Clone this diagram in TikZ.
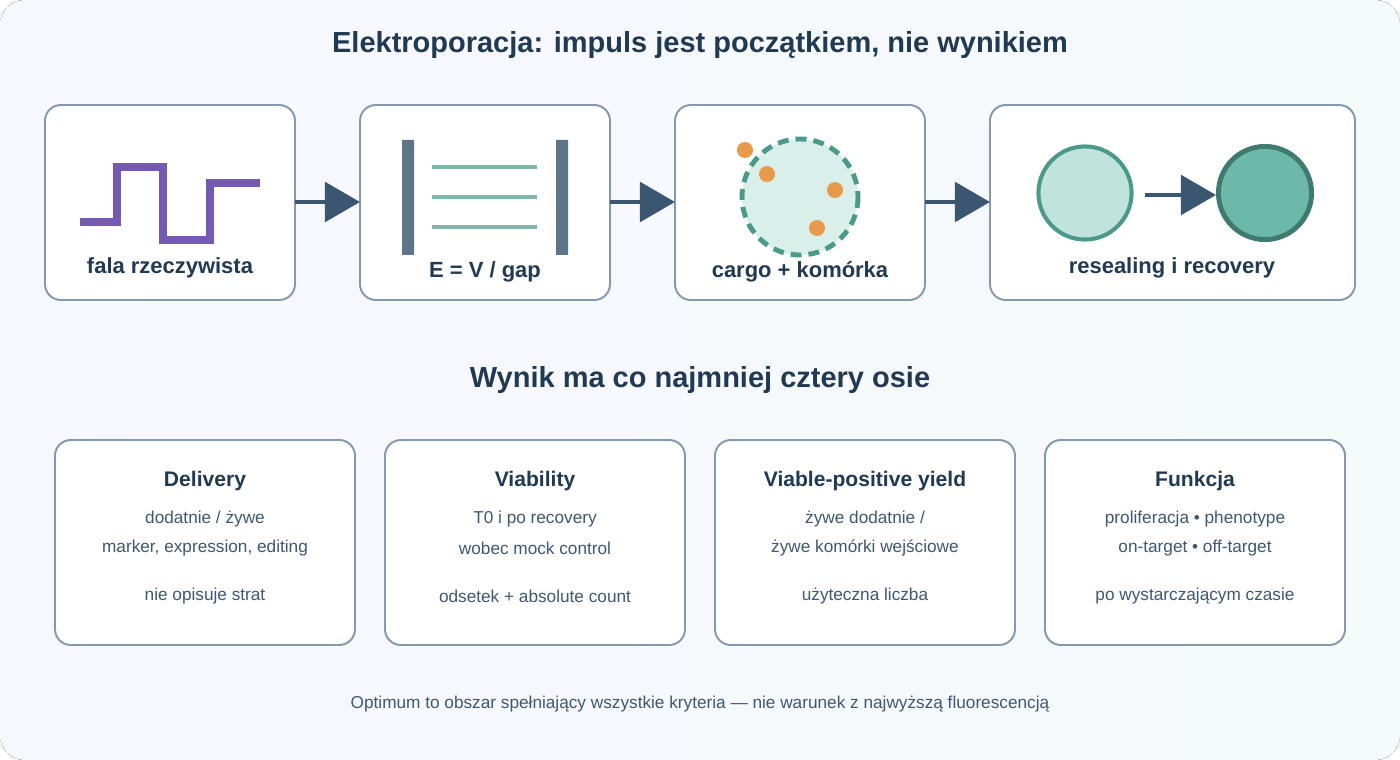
\documentclass[tikz,border=0pt]{standalone}
\usepackage[rgb]{xcolor}
\usepackage{fontspec}
\setmainfont{Liberation Sans}
\usetikzlibrary{arrows.meta,positioning}

\definecolor{ink}{HTML}{1F3A52}
\definecolor{soft}{HTML}{3E5872}
\definecolor{frame}{HTML}{8599AE}
\definecolor{arrowc}{HTML}{3B5670}
\definecolor{wave}{HTML}{7559B5}
\definecolor{plate}{HTML}{5E7589}
\definecolor{field}{HTML}{80B5A9}
\definecolor{cellin}{HTML}{D9F0EA}
\definecolor{cellout}{HTML}{4A9A8C}
\definecolor{dot}{HTML}{E8994A}
\definecolor{healed}{HTML}{6BB9A6}
\definecolor{healedout}{HTML}{3F7A70}
\definecolor{fresh}{HTML}{C0E3DB}

\tikzset{
  stagebox/.style = {draw=frame, line width=1.1pt, fill=white, rounded corners=9pt},
  flow/.style = {draw=arrowc, line width=2.5pt, -{Triangle[length=20pt,width=22.5pt]}},
  lbl/.style  = {font=\fontsize{12.5}{14}\selectfont\bfseries, text=ink},
  small/.style = {font=\fontsize{9.8}{12}\selectfont, text=soft}
}

\begin{document}
\begin{tikzpicture}[x=0.02cm, y=-0.02cm]

% background
\useasboundingbox (0,0) rectangle (1400,760);
\fill[rounded corners=14pt, left color=blue!3, right color=teal!4] (0,0) rectangle (1400,760);

\node[font=\fontsize{16.5}{18}\selectfont\bfseries, text=ink] (title) at (700,45)
  {Elektroporacja: impuls jest początkiem, nie wynikiem};

% top row boxes
\path
(45,105) coordinate (a1) (295,300) coordinate (b1)
(360,105) coordinate (a2) (610,300) coordinate (b2)
(675,105) coordinate (a3) (925,300) coordinate (b3)
(990,105) coordinate (a4) (1355,300) coordinate (b4);
\foreach \i in {1,...,4}
  \draw[stagebox] (a\i) rectangle (b\i);
\path
(295,202) coordinate (out1) (360,202) coordinate (in2)
(610,202) coordinate (out2) (675,202) coordinate (in3)
(925,202) coordinate (out3) (990,202) coordinate (in4);
\draw[flow] (out1) -- (in2);
\draw[flow] (out2) -- (in3);
\draw[flow] (out3) -- (in4);

% real pulse shape
\draw[wave, line width=4pt] (80,222) -| (117,167) -| (163,240) -| (210,183) -- (260,183);
\node[lbl] (pulse) at (170,268) {fala rzeczywista};

% electrodes and field
\fill[plate] (402,140) rectangle (414,255) (556,140) rectangle (568,255);
\foreach \y in {167,197,227}
  \draw[field, line width=2.3pt] (432,\y) -- (537,\y);
\node[lbl] (efield) at (485,272) {E = V / gap};

% cell with cargo
\draw[cellout, fill=cellin, line width=2.8pt, dash pattern=on 6.2pt off 4pt]
  (800,197) ellipse [x radius=58, y radius=58];
\foreach \px/\py in {745/150, 767/174, 835/190, 817/228}
  \fill[dot] (\px,\py) circle [radius=8];
\node[lbl] (cargo) at (800,272) {cargo + komórka};

% resealing
\node[circle, minimum size=53pt, draw=cellout, fill=fresh, line width=2.3pt] (open) at (1085,193) {};
\node[circle, minimum size=53pt, draw=healedout, fill=healed, line width=2.8pt] (closed) at (1265,193) {};
\draw[flow] (1145,195) coordinate (heal) -- (closed.west |- heal);
\node[lbl] (reseal) at (1172,268) {resealing i recovery};

\node[font=\fontsize{16.5}{18}\selectfont\bfseries, text=ink] (subtitle) at (700,380)
  {Wynik ma co najmniej cztery osie};

% four axes
\foreach \x/\head/\one/\two/\three in {
  205/Delivery/{dodatnie / żywe}/{marker, expression, editing}/{nie opisuje strat},
  535/Viability/{T0 i po recovery}/{wobec mock control}/{odsetek + absolute count},
  865/Viable-positive yield/{żywe dodatnie /}/{żywe komórki wejściowe}/{użyteczna liczba},
  1195/Funkcja/{proliferacja • phenotype}/{on-target • off-target}/{po wystarczającym czasie}}
{
  \draw[stagebox] (\x-150,440) rectangle (\x+150,645);
  \node[lbl, font=\fontsize{12}{14}\selectfont\bfseries] (head\x) at (\x,481) {\head};
  \node[small] (one\x) at (\x,519) {\one};
  \node[small] (two\x) at (\x,548) {\two};
  \node[small] (three\x) at (\x,596) {\three};
}

\node[small] (footer) at (700,704)
  {Optimum to obszar spełniający wszystkie kryteria — nie warunek z najwyższą fluorescencją};

\end{tikzpicture}
\end{document}
